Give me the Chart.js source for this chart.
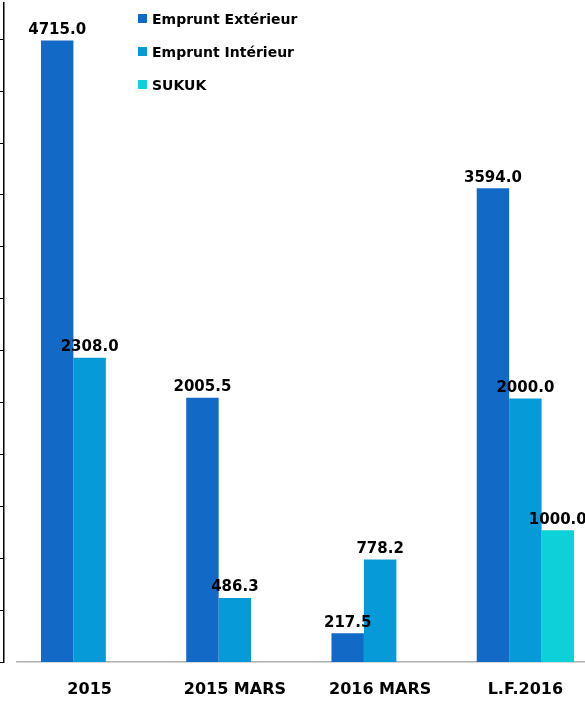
<!DOCTYPE html>
<html>
<head>
<meta charset="utf-8">
<script src="https://cdn.jsdelivr.net/npm/chart.js@4"></script>
<style>
  html, body { margin: 0; padding: 0; background: #fff; overflow: hidden; }
  #wrap { position: relative; width: 600px; height: 701px; }
  #legend { position: absolute; left: 138px; top: 8px; font: bold 14px "DejaVu Sans", sans-serif; color: #000; }
  #legend div { height: 33px; line-height: 22px; white-space: nowrap; }
  #legend span { display: inline-block; width: 9px; height: 9px; margin-right: 5px; vertical-align: 1px; }
</style>
</head>
<body>
<div id="wrap">
  <canvas id="chart"></canvas>
  <div id="legend"></div>
</div>
<script>
const categories = ['2015', '2015 MARS', '2016 MARS', 'L.F.2016'];
const seriesNames = ['Emprunt Extérieur', 'Emprunt Intérieur', 'SUKUK'];
const exterieur = [4715.0, 2005.5, 217.5, 3594.0];
const interieur = [2308.0, 486.3, 778.2, 2000.0];
const sukuk = [null, null, null, 1000.0];
const colors = ['#1369C6', '#069BD8', '#0DD0D9'];

// valeurs au-dessus des barres
const valueLabels = {
  id: 'valueLabels',
  afterDatasetsDraw(chart) {
    const ctx = chart.ctx;
    ctx.save();
    ctx.font = 'bold 15px "DejaVu Sans", sans-serif';
    ctx.fillStyle = '#000';
    ctx.textAlign = 'center';
    ctx.textBaseline = 'bottom';
    chart.data.datasets.forEach((ds, i) => {
      chart.getDatasetMeta(i).data.forEach((bar, j) => {
        const v = ds.data[j];
        if (v === null) return;
        ctx.fillText(v.toFixed(1), bar.x, bar.y - 3);
      });
    });
    ctx.restore();
  }
};

const seriesData = [exterieur, interieur, sukuk];

new Chart(document.getElementById('chart'), {
  type: 'bar',
  data: {
    labels: categories,
    datasets: seriesNames.map((name, i) => ({
      label: name,
      data: seriesData[i],
      backgroundColor: colors[i],
      borderWidth: 0
    }))
  },
  options: {
    responsive: true,
    maintainAspectRatio: false,
    animation: false,
    layout: { padding: { left: 17, right: 2, top: 3, bottom: 0 } },
    categoryPercentage: 0.67,
    barPercentage: 1.0,
    plugins: {
      legend: { display: false },
      tooltip: { enabled: false }
    },
    scales: {
      x: {
        grid: { display: false, drawTicks: false },
        border: { display: true, color: '#b0b0b0', width: 1.5 },
        ticks: {
          color: '#000',
          font: { family: 'DejaVu Sans', size: 16, weight: 'bold' },
          padding: 18,
          maxRotation: 0
        },
        afterFit(scale) { scale.height = 39; }
      },
      y: {
        display: false,
        min: 0,
        max: 5000
      },
      y2: {
        axis: 'y',
        type: 'linear',
        position: { x: -0.59 },
        min: 0,
        max: 12.7,
        ticks: { display: false, stepSize: 1, includeBounds: false },
        grid: { drawOnChartArea: false, drawTicks: true, tickLength: 4, color: '#000', lineWidth: 1 },
        border: { display: true, color: '#000', width: 1.5 }
      }
    }
  },
  plugins: [valueLabels]
});

document.getElementById('wrap').style.height = '701px';
const legend = document.getElementById('legend');
seriesNames.forEach((name, i) => {
  const row = document.createElement('div');
  row.innerHTML = '<span style="background:' + colors[i] + '"></span>' + name;
  legend.appendChild(row);
});
</script>
</body>
</html>
